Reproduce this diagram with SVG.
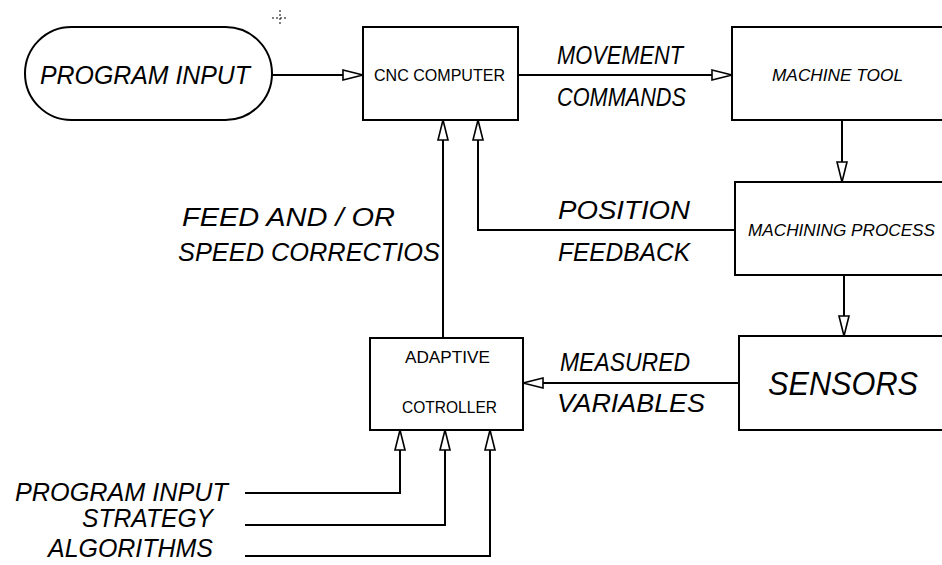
<svg xmlns="http://www.w3.org/2000/svg" width="942" height="565" viewBox="0 0 942 565">
<style>
.box{fill:#fff;stroke:#000;stroke-width:2}
.ln{fill:none;stroke:#000;stroke-width:2}
.big{font-family:"Liberation Sans",Arial,sans-serif;font-size:25px;font-style:italic;fill:#000}
.sm{font-family:"Liberation Sans",Arial,sans-serif;font-size:17px;fill:#000}
.xl{font-family:"Liberation Sans",Arial,sans-serif;font-size:34px;font-style:italic;fill:#000}
</style>
<defs>
<marker id="ah" markerUnits="userSpaceOnUse" markerWidth="24" markerHeight="14" refX="21" refY="6" orient="auto">
<path d="M1,1 L21,6 L1,11 Z" fill="#fff" stroke="#000" stroke-width="1.6"/>
</marker>
</defs>
<rect width="942" height="565" fill="#fff"/>
<g id="crosshair" stroke="#000" stroke-width="1" stroke-dasharray="2,2">
<line x1="272" y1="18" x2="288" y2="18"/>
<line x1="280" y1="10" x2="280" y2="26"/>
</g>
<g id="connectors">
<line class="ln" x1="272" y1="75" x2="363" y2="75" marker-end="url(#ah)"/>
<line class="ln" x1="518" y1="75" x2="732" y2="75" marker-end="url(#ah)"/>
<line class="ln" x1="842" y1="120" x2="842" y2="182" marker-end="url(#ah)"/>
<polyline class="ln" points="735,230 478,230 478,120" marker-end="url(#ah)"/>
<line class="ln" x1="844" y1="275" x2="844" y2="336" marker-end="url(#ah)"/>
<line class="ln" x1="739" y1="383" x2="523" y2="383" marker-end="url(#ah)"/>
<line class="ln" x1="443" y1="338" x2="443" y2="120" marker-end="url(#ah)"/>
<polyline class="ln" points="245,493 400,493 400,430" marker-end="url(#ah)"/>
<polyline class="ln" points="245,525 445,525 445,430" marker-end="url(#ah)"/>
<polyline class="ln" points="245,556 490,556 490,430" marker-end="url(#ah)"/>
<text class="big" x="557" y="64" textLength="126" lengthAdjust="spacingAndGlyphs">MOVEMENT</text>
<text class="big" x="557" y="106" textLength="129" lengthAdjust="spacingAndGlyphs">COMMANDS</text>
<text class="big" x="558" y="219" textLength="132" lengthAdjust="spacingAndGlyphs">POSITION</text>
<text class="big" x="558" y="261" textLength="132" lengthAdjust="spacingAndGlyphs">FEEDBACK</text>
<text class="big" x="182" y="226" textLength="213" lengthAdjust="spacingAndGlyphs">FEED AND / OR</text>
<text class="big" x="178" y="261" textLength="262" lengthAdjust="spacingAndGlyphs">SPEED CORRECTIOS</text>
<text class="big" x="560" y="371" textLength="130" lengthAdjust="spacingAndGlyphs">MEASURED</text>
<text class="big" x="557" y="412" textLength="148" lengthAdjust="spacingAndGlyphs">VARIABLES</text>
<text class="big" x="15" y="501" textLength="213" lengthAdjust="spacingAndGlyphs">PROGRAM INPUT</text>
<text class="big" x="82" y="527" textLength="131" lengthAdjust="spacingAndGlyphs">STRATEGY</text>
<text class="big" x="48" y="557" textLength="165" lengthAdjust="spacingAndGlyphs">ALGORITHMS</text>
</g>
<g id="program-input">
<rect class="box" x="25" y="27" width="247" height="93" rx="46.5"/>
<text class="big" x="40" y="84" textLength="210" lengthAdjust="spacingAndGlyphs">PROGRAM INPUT</text>
</g>
<g id="cnc-computer">
<rect class="box" x="363" y="27" width="155" height="93"/>
<text class="sm" x="374" y="81" textLength="131" lengthAdjust="spacingAndGlyphs">CNC COMPUTER</text>
</g>
<g id="machine-tool">
<rect class="box" x="732" y="27" width="212" height="93"/>
<text class="sm" x="772" y="81" textLength="131" lengthAdjust="spacingAndGlyphs" font-style="italic">MACHINE TOOL</text>
</g>
<g id="machining-process">
<rect class="box" x="735" y="182" width="209" height="93"/>
<text class="sm" x="748" y="236" textLength="187" lengthAdjust="spacingAndGlyphs" font-style="italic">MACHINING PROCESS</text>
</g>
<g id="sensors">
<rect class="box" x="739" y="336" width="205" height="94"/>
<text class="xl" x="768" y="395" textLength="150" lengthAdjust="spacingAndGlyphs">SENSORS</text>
</g>
<g id="adaptive-controller">
<rect class="box" x="370" y="338" width="153" height="92"/>
<text class="sm" x="405" y="363" textLength="85" lengthAdjust="spacingAndGlyphs">ADAPTIVE</text>
<text class="sm" x="402" y="413" textLength="95" lengthAdjust="spacingAndGlyphs">COTROLLER</text>
</g>
</svg>
